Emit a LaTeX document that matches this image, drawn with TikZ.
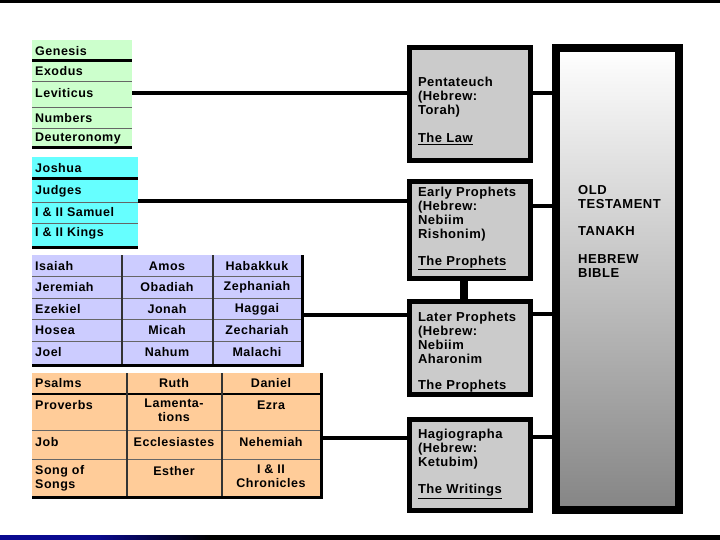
\documentclass[tikz,border=0pt]{standalone}
\usepackage{fontspec}
\setmainfont{Liberation Sans}[LetterSpace=4]
\definecolor{lawgreen}{HTML}{CCFFCC}
\definecolor{histcyan}{HTML}{66FFFF}
\definecolor{prophlav}{HTML}{CCCCFF}
\definecolor{writtan}{HTML}{FFCC99}
\definecolor{boxgray}{HTML}{CBCBCB}
\definecolor{bibgray}{HTML}{858585}
\definecolor{rulegray}{HTML}{666666}
\definecolor{bandblue}{HTML}{0A0A90}
\usetikzlibrary{calc}

\begin{document}
\begin{tikzpicture}[x=1pt,y=-1pt,
  lbl/.style={font=\bfseries\fontsize{12.5}{14}\selectfont,inner sep=0pt},
  biglbl/.style={font=\bfseries\fontsize{13}{14}\selectfont,inner sep=0pt},
  cell/.style={lbl,anchor=west,align=left},
  mcell/.style={lbl,align=center},
  thin rule/.style={rulegray,line width=0.9pt},
  thick rule/.style={black,line width=3pt},
  col rule/.style={black!80,line width=1.6pt},
  section/.style={draw=black,line width=5pt,fill=boxgray,minimum width=121pt,
    text width=104pt,inner xsep=8.5pt,align=left,biglbl,anchor=north west},
  link/.style={black,line width=4.5pt},
]
  \useasboundingbox (0,0) rectangle (720,540);
  % slide bands
  \fill[black] (0,0) rectangle (720,3);
  \fill[black] (0,535) rectangle (720,540);
  \fill[bandblue] (0,535) rectangle (95,540);
  \shade[left color=bandblue,right color=black] (95,535) rectangle (210,540);

  % the Law
  \fill[lawgreen] (32,40) rectangle (132,148);
  \draw[thin rule] (32,81) -- (132,81) (32,107) -- (132,107) (32,128) -- (132,128);
  \draw[thick rule] (32,61) -- (132,61) (32,148) -- (132,148);
  \foreach \nm/\yy/\bk in {gen/51/Genesis,exo/71/Exodus,lev/93/Leviticus,
      num/118/Numbers,deu/138/Deuteronomy}
    \node[cell] (\nm) at (35,\yy) {\bk};

  % early prophets
  \fill[histcyan] (32,157) rectangle (138,247);
  \draw[thin rule] (32,202) -- (138,202) (32,223) -- (138,223);
  \draw[thick rule] (32,179) -- (138,179) (32,247) -- (138,247);
  \foreach \nm/\yy/\bk in {josh/168/Joshua,judg/191/Judges,
      sam/212/I \& II Samuel,kgs/233/I \& II Kings}
    \node[cell] (\nm) at (35,\yy) {\bk};

  % later prophets
  \fill[prophlav] (32,255) rectangle (302,365);
  \draw[thin rule] (32,276.5) -- (302,276.5) (32,298) -- (302,298)
    (32,319.5) -- (302,319.5) (32,341) -- (302,341);
  \draw[col rule] (122,255) -- (122,364) (213,255) -- (213,364);
  \draw[thick rule] (302,255) -- (302,366.5) (32,365) -- (303.5,365);
  \foreach \a/\b/\c/\yy [count=\i] in {Isaiah/Amos/Habakkuk/266,
      Jeremiah/Obadiah/Zephaniah/287,Ezekiel/Jonah/Haggai/309,
      Hosea/Micah/Zechariah/330,Joel/Nahum/Malachi/352}{
    \node[cell] (lp\i a) at (35,\yy) {\a};
    \node[mcell] (lp\i b) at (167,\yy) {\b};
    \node[mcell] (lp\i c) at (257,\yy) {\c};
  }

  % writings
  \fill[writtan] (32,373) rectangle (321,497);
  \draw[black,line width=2.5pt] (32,394) -- (321,394);
  \draw[thin rule] (32,430) -- (321,430) (32,459) -- (321,459);
  \draw[col rule] (127,373) -- (127,496) (222,373) -- (222,496);
  \draw[thick rule] (321,373) -- (321,498.5) (32,497) -- (322.5,497);
  \node[cell] (psa) at (35,383) {Psalms};
  \node[mcell] (ruth) at (174,383) {Ruth};
  \node[mcell] (dan) at (271,383) {Daniel};
  \node[cell] (prov) at (35,405) {Proverbs};
  \node[mcell,anchor=north] (lam) at (174,399) {Lamenta-\\tions};
  \node[mcell] (ezra) at (271,405) {Ezra};
  \node[cell] (job) at (35,442) {Job};
  \node[mcell] (eccl) at (174,442) {Ecclesiastes};
  \node[mcell] (neh) at (271,442) {Nehemiah};
  \node[cell,anchor=north west] (song) at (35,465) {Song of\\Songs};
  \node[mcell] (esther) at (174,471) {Esther};
  \node[mcell,anchor=north] (chr) at (271,465) {I \& II\\Chronicles};

  % the four divisions
  \node[section,minimum height=113pt] (penta) at (407,45)
    {\raisebox{0pt}[23pt]{Pentateuch}\\(Hebrew:\\Torah)\\[14pt]\underline{The Law}};
  \node[section,minimum height=97pt] (early) at (407,179)
    {Early Prophets\\(Hebrew:\\Nebiim\\Rishonim)\\[13pt]\raisebox{0pt}[9pt][8pt]{\underline{The Prophets}}};
  \node[section,minimum height=90pt] (later) at (407,299)
    {\raisebox{0pt}[20pt]{Later Prophets}\\(Hebrew:\\Nebiim\\Aharonim\\[12pt]\underline{The Prophets}};
  \node[section,minimum height=91pt] (hagio) at (407,417)
    {Hagiographa\\(Hebrew:\\Ketubim)\\[13pt]\raisebox{0pt}[9pt][7pt]{\underline{The Writings}}};

  % whole bible
  \node[draw=black,line width=8pt,top color=white,bottom color=bibgray,
    minimum width=123pt,minimum height=462pt,inner sep=0pt,anchor=north west]
    (ot) at (552,44) {};
  \node[biglbl,anchor=north west,align=left] (otname) at (578,185)
    {OLD\\TESTAMENT\\[13pt]TANAKH\\[14pt]HEBREW\\BIBLE};

  % connectors
  \coordinate (torahR) at (132,93);
  \coordinate (nebR) at (138,201);
  \coordinate (latR) at (303,315);
  \coordinate (ketR) at (322,438);
  \coordinate (pk) at (464,0);
  \draw[link] (torahR) -- (torahR -| penta.west);
  \draw[link] (torahR -| penta.east) -- (torahR -| ot.west);
  \draw[link] (nebR) -- (nebR -| early.west);
  \draw[link] (early.east |- 0,206) -- (ot.west |- 0,206);
  \draw[link] (latR) -- (latR -| later.west);
  \draw[link] (later.east |- 0,314) -- (ot.west |- 0,314);
  \draw[link] (ketR) -- (ketR -| hagio.west);
  \draw[link] (hagio.east |- 0,437) -- (ot.west |- 0,437);
  \draw[link,line width=8pt] (early.south -| pk) -- (later.north -| pk);
\end{tikzpicture}
\end{document}
